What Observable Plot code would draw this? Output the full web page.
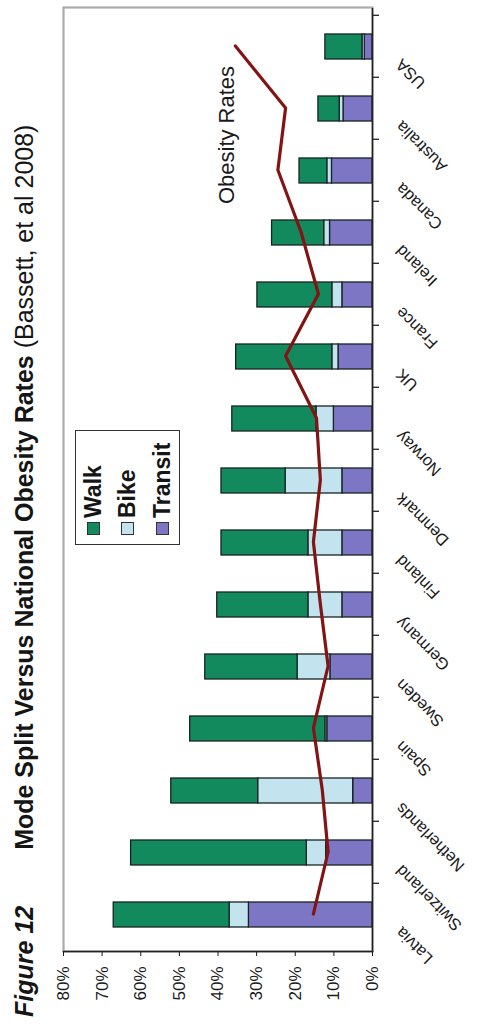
<!DOCTYPE html>
<html>
<head>
<meta charset="utf-8">
<script src="https://cdn.jsdelivr.net/npm/d3@7"></script>
<script src="https://cdn.jsdelivr.net/npm/@observablehq/plot@0.6"></script>
<style>
  html, body { margin: 0; padding: 0; background: #fff; }
  body { width: 477px; height: 1032px; overflow: hidden; position: relative;
         font-family: "Liberation Sans", Arial, sans-serif; color: #151515; }
  /* the figure is laid out in landscape and turned a quarter turn counter-clockwise */
  #page { position: absolute; left: 0; top: 0; width: 1032px; height: 477px;
          transform-origin: 0 0; transform: translate(0, 1032px) rotate(-90deg); background: #fff; }
  #title { position: absolute; left: 15px; top: 12px; font-size: 25px; line-height: 1; white-space: nowrap; }
  #title .fig { font-weight: bold; font-style: italic; }
  #title .main { font-weight: bold; margin-left: 56px; }
  #chart { position: absolute; left: 0; top: 50px; }
  #legend { position: absolute; left: 487px; top: 75px; width: 115px; height: 105px;
            box-sizing: border-box; border: 1.5px solid #333; background: #fff; }
  #legend .item { display: flex; align-items: center; height: 34.5px;
                  font-size: 23px; font-weight: bold; }
  #legend .sw { width: 11px; height: 11px; border: 1px solid #333; margin-left: 9px; margin-right: 4px; }
</style>
</head>
<body>
<div id="page">
  <div id="title"><span class="fig">Figure 12</span><span class="main">Mode Split Versus National Obesity Rates</span> (Bassett, et al 2008)</div>
  <div id="chart"></div>
  <div id="legend"></div>
</div>
<script>
// Share of trips by mode (%) and national obesity rate (%), by country
const countries = ["Latvia", "Switzerland", "Netherlands", "Spain", "Sweden", "Germany", "Finland",
                   "Denmark", "Norway", "UK", "France", "Ireland", "Canada", "Australia", "USA"];
const transit = [32, 12, 5, 11.7, 10.9, 7.8, 7.8, 7.8, 10, 8.8, 7.8, 11, 10.5, 7.5, 2];
const bike    = [5, 5, 24.6, 0.5, 8.5, 8.8, 8.8, 14.7, 4.5, 1.6, 2.6, 1.5, 1.2, 1, 0.6];
const walk    = [30, 45.5, 22.5, 35, 23.9, 23.6, 22.5, 16.6, 21.8, 24.9, 19.4, 13.5, 7.2, 5.5, 9.6];
const obesity = [15.3, 11.5, 13, 15.3, 11.5, 13.5, 15.3, 13.5, 14.5, 22.5, 14, 18.5, 24.5, 22.5, 35.5];

const modes = ["Walk", "Bike", "Transit"];
const modeColors = ["#128a5d", "#c3e4ee", "#7c76c4"];
const yTicks = [0, 10, 20, 30, 40, 50, 60, 70, 80];
const lineLabel = { text: "Obesity Rates", country: "Australia", value: 37.8 };

// long table, transit stacked first (next to the axis), then bike, then walk
const rows = countries.flatMap((c, i) => [
  { country: c, mode: "Transit", value: transit[i] },
  { country: c, mode: "Bike", value: bike[i] },
  { country: c, mode: "Walk", value: walk[i] }
]);
const obesityRows = countries.map((c, i) => ({ country: c, rate: obesity[i] }));

const padInner = 0.59, padOuter = padInner / 2;

// small tick marks at the borders between countries
function bandTicks(index, scales, values, dims) {
  const x = scales.x;
  const step = x(countries[1]) - x(countries[0]);
  const start = x(countries[0]) - step * padOuter;
  const y0 = dims.height - dims.marginBottom;
  const g = d3.create("svg:g").attr("stroke", "#222").attr("stroke-width", 1.3);
  for (let i = 1; i <= countries.length; i++) {
    const px = start + i * step;
    g.append("line").attr("x1", px).attr("x2", px).attr("y1", y0).attr("y2", y0 + 7);
  }
  return g.node();
}

const chart = Plot.plot({
  width: 1032,
  height: 427,
  marginTop: 13,
  marginBottom: 105,
  marginLeft: 80,
  marginRight: 8,
  style: { fontFamily: "'Liberation Sans', Arial, sans-serif", background: "transparent", color: "#1a1a1a" },
  x: { domain: countries, paddingInner: padInner, paddingOuter: padOuter, axis: null },
  y: { domain: [0, 80], axis: null },
  color: { domain: modes, range: modeColors },
  marks: [
    Plot.frame({ stroke: "#ababab", strokeWidth: 2.2 }),
    Plot.barY(rows, { x: "country", y: "value", fill: "mode", stroke: "#172424", strokeWidth: 1.3 }),
    Plot.line(obesityRows, { x: "country", y: "rate", stroke: "#831414", strokeWidth: 3.2 }),
    Plot.text([lineLabel], { x: "country", y: "value", text: "text", dx: -27, fontSize: 22, fill: "#1a1a1a" }),
    Plot.axisY({ ticks: yTicks, tickFormat: d => d + "%", tickSize: 4, tickPadding: 11, fontSize: 17 }),
    Plot.frame({ anchor: "left", stroke: "#222", strokeWidth: 1.5 }),
    Plot.ruleY([0], { stroke: "#222", strokeWidth: 1.5 }),
    bandTicks,
    Plot.text(countries, { x: d => d, frameAnchor: "bottom", dx: -12, dy: 30, rotate: -45,
                           textAnchor: "end", fontSize: 16.5, fill: "#1a1a1a" })
  ]
});
document.getElementById("chart").append(chart);

// legend box
const legend = d3.select("#legend");
modes.forEach((m, i) => {
  const item = legend.append("div").attr("class", "item");
  item.append("div").attr("class", "sw").style("background", modeColors[i]);
  item.append("span").text(m);
});
</script>
</body>
</html>
